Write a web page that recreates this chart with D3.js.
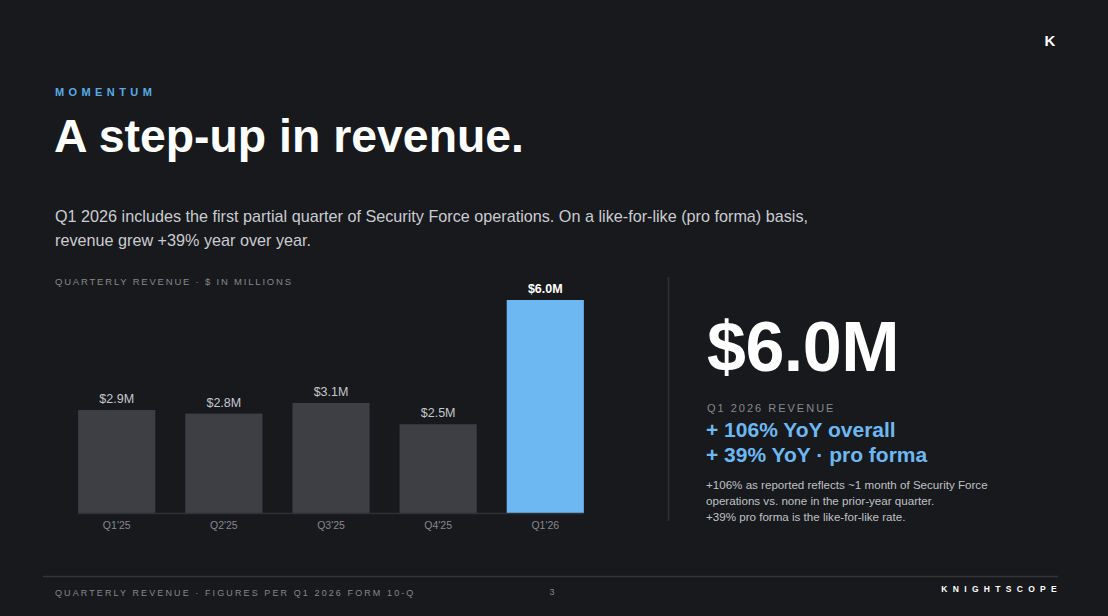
<!DOCTYPE html>
<html>
<head>
<meta charset="utf-8">
<script src="https://cdn.jsdelivr.net/npm/d3@7"></script>
<style>
  html, body { margin:0; padding:0; background:#18191c; }
  svg { display:block; font-family:"Liberation Sans", Arial, Helvetica, sans-serif; }
</style>
</head>
<body>
<div id="canvas" class="canvas" style="width:1108px;height:616px;"></div>
<script>
// --- data
var quarters = ["Q1'25", "Q2'25", "Q3'25", "Q4'25", "Q1'26"];
var revenue = [2.9, 2.8, 3.1, 2.5, 6.0];
var valueLabels = ["$2.9M", "$2.8M", "$3.1M", "$2.5M", "$6.0M"];
var introLines = [
  "Q1 2026 includes the first partial quarter of Security Force operations. On a like-for-like (pro forma) basis,",
  "revenue grew +39% year over year."
];
var growthLines = ["+ 106% YoY overall", "+ 39% YoY \u00b7 pro forma"];
var noteLines = [
  "+106% as reported reflects ~1 month of Security Force",
  "operations vs. none in the prior-year quarter.",
  "+39% pro forma is the like-for-like rate."
];

var W = 1108, H = 616;
var svg = d3.select('.canvas')
  .append('svg')
  .attr('width', W)
  .attr('height', H);

svg.append('rect').attr('width', W).attr('height', H).attr('fill', '#18191c');

// --- header
svg.append('text')
  .attr('x', 55).attr('y', 96)
  .attr('fill', '#5aaae8')
  .style('font-size', '11px').style('font-weight', 'bold')
  .style('letter-spacing', '4.4px')
  .text('MOMENTUM');

svg.append('text')
  .attr('x', 54).attr('y', 152)
  .attr('fill', '#ffffff')
  .style('font-size', '46.4px').style('font-weight', 'bold')
  .text('A step-up in revenue.');

svg.selectAll('.intro')
  .data(introLines)
  .enter().append('text')
  .attr('class', 'intro')
  .attr('x', 55)
  .attr('y', function(d, i) { return 222 + i * 24; })
  .attr('fill', '#c9ccd1')
  .style('font-size', '16.2px')
  .text(function(d) { return d; });

// --- chart
var M = {top:300, left:76, bottom:513};
var x = d3.scaleBand()
  .domain(quarters)
  .range([M.left, 586])
  .paddingInner(0.28)
  .paddingOuter(0.02);
var y = d3.scaleLinear()
  .domain([0, 6.0])
  .range([M.bottom, M.top]);

svg.append('text')
  .attr('x', 55).attr('y', 285)
  .attr('fill', '#85888e')
  .style('font-size', '9.5px')
  .style('letter-spacing', '1.8px')
  .text('QUARTERLY REVENUE \u00b7 $ IN MILLIONS');

var bars = svg.append('g');
bars.selectAll('rect')
  .data(revenue)
  .enter().append('rect')
  .attr('x', function(d, i) { return x(quarters[i]); })
  .attr('y', function(d) { return y(d); })
  .attr('width', x.bandwidth())
  .attr('height', function(d) { return y(0) - y(d); })
  .attr('fill', function(d, i) { return i === revenue.length - 1 ? '#6db8f2' : '#3d3f44'; });

svg.append('line')
  .attr('x1', x(quarters[0])).attr('x2', x(quarters[4]) + x.bandwidth())
  .attr('y1', y(0) + 0.5).attr('y2', y(0) + 0.5)
  .attr('stroke', '#2f3136').attr('stroke-width', 1.5);

bars.selectAll('.val')
  .data(revenue)
  .enter().append('text')
  .attr('class', 'val')
  .attr('x', function(d, i) { return x(quarters[i]) + x.bandwidth() / 2; })
  .attr('y', function(d) { return y(d) - 7; })
  .attr('text-anchor', 'middle')
  .attr('fill', function(d, i) { return i === revenue.length - 1 ? '#ffffff' : '#c4c7cc'; })
  .style('font-size', '12.5px')
  .style('font-weight', function(d, i) { return i === revenue.length - 1 ? 'bold' : 'normal'; })
  .text(function(d, i) { return valueLabels[i]; });

var xAxis = svg.append('g')
  .attr('transform', 'translate(0,' + (y(0) + 1) + ')')
  .call(d3.axisBottom(x).tickSize(0).tickPadding(8));
xAxis.select('.domain').remove();
xAxis.selectAll('text')
  .attr('fill', '#85888e')
  .style('font-size', '10.5px')
  .style('font-family', '"Liberation Sans", Arial, sans-serif');

// --- divider
svg.append('line')
  .attr('x1', 668.5).attr('x2', 668.5)
  .attr('y1', 277).attr('y2', 521)
  .attr('stroke', '#2e3035').attr('stroke-width', 1.5);

// --- right-hand callout
svg.append('text')
  .attr('x', 707).attr('y', 371)
  .attr('fill', '#ffffff')
  .style('font-size', '70px').style('font-weight', 'bold')
  .style('letter-spacing', '-0.5px')
  .text(valueLabels[4]);

svg.append('text')
  .attr('x', 707).attr('y', 412)
  .attr('fill', '#85888e')
  .style('font-size', '11px')
  .style('letter-spacing', '2px')
  .text('Q1 2026 REVENUE');

svg.selectAll('.growth')
  .data(growthLines)
  .enter().append('text')
  .attr('class', 'growth')
  .attr('x', 706)
  .attr('y', function(d, i) { return 437 + i * 25; })
  .attr('fill', '#6db8f2')
  .style('font-size', '21px').style('font-weight', 'bold')
  .text(function(d) { return d; });

svg.selectAll('.note')
  .data(noteLines)
  .enter().append('text')
  .attr('class', 'note')
  .attr('x', 706)
  .attr('y', function(d, i) { return 489 + i * 16; })
  .attr('fill', '#bfc2c7')
  .style('font-size', '11.6px')
  .text(function(d) { return d; });

// --- footer
svg.append('line')
  .attr('x1', 43).attr('x2', 1058)
  .attr('y1', 576.5).attr('y2', 576.5)
  .attr('stroke', '#34363b').attr('stroke-width', 1.5);

svg.append('text')
  .attr('x', 55).attr('y', 596)
  .attr('fill', '#85888e')
  .style('font-size', '9px')
  .style('letter-spacing', '2.1px')
  .text('QUARTERLY REVENUE \u00b7 FIGURES PER Q1 2026 FORM 10-Q');

svg.append('text')
  .attr('x', 552).attr('y', 595)
  .attr('text-anchor', 'middle')
  .attr('fill', '#85888e')
  .style('font-size', '9px')
  .text('3');

svg.append('text')
  .attr('x', 1062).attr('y', 592)
  .attr('text-anchor', 'end')
  .attr('fill', '#ffffff')
  .style('font-size', '8.5px').style('font-weight', 'bold')
  .style('letter-spacing', '5.3px')
  .text('KNIGHTSCOPE');

// --- corner mark
svg.append('text')
  .attr('x', 1050).attr('y', 46)
  .attr('text-anchor', 'middle')
  .attr('fill', '#ffffff')
  .style('font-size', '15px').style('font-weight', 'bold')
  .text('K');
</script>
</body>
</html>
